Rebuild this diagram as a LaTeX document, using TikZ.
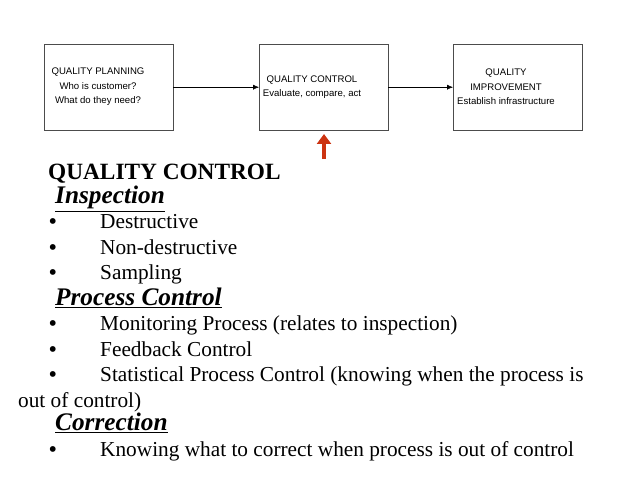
\documentclass[tikz,border=0pt]{standalone}
\usepackage{fontspec}
\setmainfont{Liberation Serif}
\newfontfamily\boxfont{Liberation Sans}
\usetikzlibrary{arrows.meta}
\definecolor{qred}{RGB}{204,51,17}
\tikzset{
  qbox/.style={draw=black!70,minimum width=129pt,minimum height=86pt,anchor=north west,inner sep=0pt},
  qtext/.style={font=\boxfont\fontsize{9.6}{14.5}\selectfont,align=center,inner sep=0pt},
  line/.style={anchor=base west,inner sep=0pt,font=\fontsize{21.3}{24}\selectfont},
  head/.style={line,font=\fontsize{25.3}{24}\selectfont\bfseries\itshape},
  qarrow/.style={-{Latex[length=6pt,width=5pt]},black}
}
\begin{document}
\begin{tikzpicture}[x=1pt,y=-1pt]
  \useasboundingbox (0,0) rectangle (638,478);
  \node[qbox] (plan) at (44,44) {};
  \node[qbox] (ctrl) at (259,44) {};
  \node[qbox] (impr) at (453,44) {};
  \node[qtext] (plant) at (98,87) {QUALITY PLANNING\\Who is customer?\\What do they need?};
  \node[qtext] (ctrlt) at (312,87) {QUALITY CONTROL\\Evaluate, compare, act};
  \node[qtext] (imprt) at (506,87) {QUALITY\\IMPROVEMENT\\Establish infrastructure};
  \draw[qarrow] (plan.east) -- (ctrl.west);
  \draw[qarrow] (ctrl.east) -- (impr.west);
  \coordinate (up0) at (324,159);
  \coordinate (up1) at (324,134);
  \draw[qred,line width=4pt,-{Triangle[length=10pt,width=14pt]}] (up0) -- (up1);

  \node[line,font=\fontsize{23.3}{24}\selectfont\bfseries] (title) at (48,180) {QUALITY CONTROL};
  \node[head] (insp) at (55,204) {\underline{Inspection}};
  \foreach \y/\t [count=\i] in {229/Destructive,255/Non-destructive,280/Sampling,
      331/Monitoring Process (relates to inspection),357/Feedback Control,
      382/Statistical Process Control (knowing when the process is,
      457/Knowing what to correct when process is out of control} {
    \node[line] (bul\i) at (49,\y) {\textbf{•}};
    \node[line] (txt\i) at (100,\y) {\t};
  }
  \node[head] (proc) at (55,306) {\underline{Process Control}};
  \node[line] (outc) at (18,408) {out of control)};
  \node[head] (corr) at (55,431) {\underline{Correction}};
\end{tikzpicture}
\end{document}
